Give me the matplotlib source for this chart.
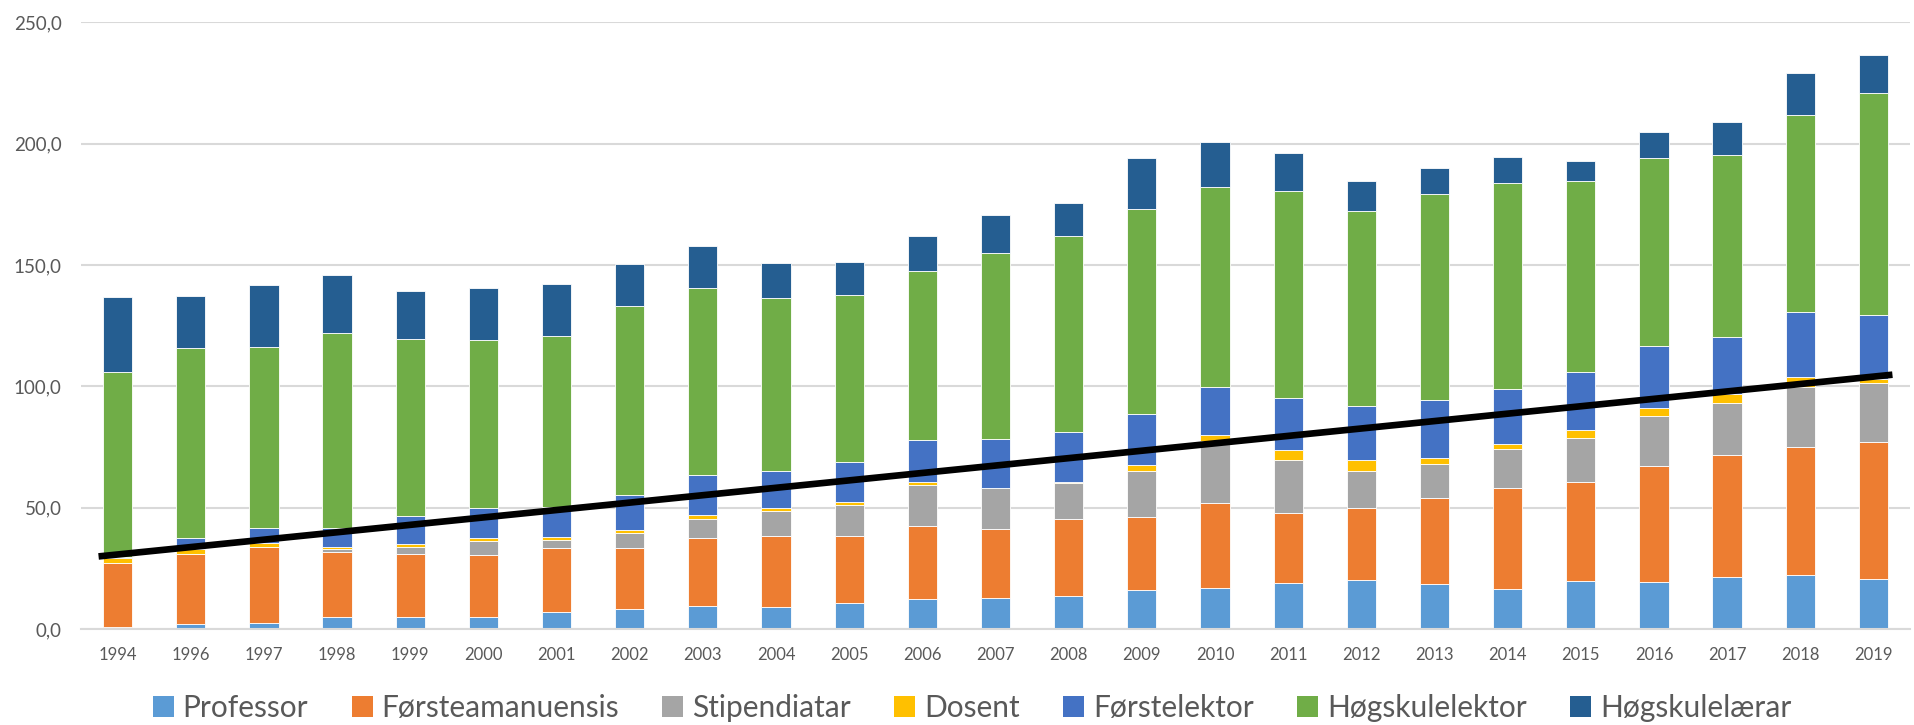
import matplotlib
matplotlib.use("Agg")
import matplotlib.pyplot as plt
import numpy as np
from matplotlib.patches import Patch
from matplotlib.ticker import FuncFormatter, MultipleLocator

plt.rcParams['font.family'] = ['Lato', 'DejaVu Sans']

years = ["1994", "1996", "1997", "1998", "1999", "2000", "2001", "2002", "2003", "2004",
         "2005", "2006", "2007", "2008", "2009", "2010", "2011", "2012", "2013", "2014",
         "2015", "2016", "2017", "2018", "2019"]

professor = [0.7, 1.9, 2.3, 4.8, 4.8, 5.1, 7.1, 8.2, 9.6, 9.2, 10.8, 12.2, 12.8, 13.6, 16.2,
             17.0, 18.9, 20.2, 18.4, 16.5, 19.9, 19.5, 21.5, 22.3, 20.8]
forsteamanuensis = [26.3, 29.0, 31.6, 27.1, 26.2, 25.5, 26.4, 25.3, 28.0, 29.3, 27.4, 30.1, 28.5,
                    31.8, 29.8, 34.9, 28.7, 29.8, 35.7, 41.6, 40.7, 47.6, 50.3, 52.8, 56.2]
stipendiatar = [0.0, 0.0, 0.0, 1.2, 2.9, 5.8, 3.3, 5.9, 7.9, 10.1, 12.8, 17.0, 16.7, 14.9, 19.0,
                25.5, 22.0, 15.2, 14.0, 16.1, 17.9, 20.8, 21.2, 24.7, 24.5]
dosent = [2.3, 1.9, 1.7, 0.8, 1.3, 1.1, 1.1, 1.3, 1.3, 1.3, 1.2, 1.3, 0.3, 0.3, 2.4, 2.5, 4.1,
          4.3, 2.4, 1.9, 3.3, 3.3, 3.9, 3.9, 1.6]
forstelektor = [0.5, 4.8, 6.2, 7.9, 11.5, 12.5, 12.5, 14.5, 16.5, 15.3, 16.5, 17.3, 20.0, 20.5,
                21.1, 19.8, 21.6, 22.5, 23.9, 22.6, 24.2, 25.6, 23.3, 27.1, 26.1]
hogskulelektor = [76.1, 78.2, 74.3, 80.2, 72.9, 69.0, 70.3, 77.9, 77.2, 71.2, 68.9, 69.6, 76.7,
                  80.7, 84.5, 82.5, 85.2, 80.1, 85.0, 84.9, 78.7, 77.3, 75.2, 80.8, 91.5]
hogskulelaerar = [31.1, 21.4, 25.5, 23.9, 19.8, 21.5, 21.3, 17.2, 17.2, 14.4, 13.6, 14.6, 15.4,
                  13.7, 21.1, 18.5, 15.8, 12.4, 10.7, 10.8, 8.1, 10.8, 13.6, 17.6, 15.8]

series_names = ["Professor", "Førsteamanuensis", "Stipendiatar", "Dosent", "Førstelektor",
                "Høgskulelektor", "Høgskulelærar"]
series = [professor, forsteamanuensis, stipendiatar, dosent, forstelektor, hogskulelektor,
          hogskulelaerar]
colors = ["#5B9BD5", "#ED7D31", "#A5A5A5", "#FFC000", "#4472C4", "#70AD47", "#255E91"]

# trend line values at first and last category
trend_first = 30.7
trend_last = 104.0

W, H = 1915, 725
fig = plt.figure(figsize=(W / 100, H / 100), dpi=100)
ax = fig.add_axes([81 / W, 1 - 629 / H, (1910 - 81) / W, (629 - 22.3) / H])

x = np.arange(len(years))
bottom = np.zeros(len(years))
for name, vals, c in zip(series_names, series, colors):
    v = np.array(vals)
    ax.bar(x, v, width=0.4, bottom=bottom, color=c, edgecolor="#FFFFFF", linewidth=0.6,
           label=name, zorder=2)
    bottom += v

# trend line, extended slightly past first/last bar centre
slope = (trend_last - trend_first) / (len(years) - 1)
ext = 0.26
tx = np.array([-ext, len(years) - 1 + ext])
ty = trend_first + slope * tx
ax.plot(tx, ty, color="black", lw=4.8, solid_capstyle="butt", zorder=3)

ax.set_xlim(-0.5, len(years) - 0.5)
ax.set_ylim(0, 250)
ax.yaxis.set_major_locator(MultipleLocator(50))
ax.yaxis.set_major_formatter(FuncFormatter(lambda v, p: f"{v:.1f}".replace(".", ",")))
ax.set_xticks(x)
ax.set_xticklabels(years)
ax.grid(axis="y", color="#D9D9D9", lw=1.5, zorder=0)
ax.set_axisbelow(True)
for s in ["top", "right", "left"]:
    ax.spines[s].set_visible(False)
ax.spines["bottom"].set_color("#D9D9D9")
ax.spines["bottom"].set_linewidth(1.5)
ax.tick_params(axis="y", length=0, pad=14, labelsize=13.5, labelcolor="#595959")
ax.tick_params(axis="x", length=0, pad=13, labelsize=12, labelcolor="#595959")

handles = [Patch(facecolor=c, edgecolor="none") for c in colors]
fig.legend(handles, series_names, loc="center", bbox_to_anchor=(972 / W, 1 - 708 / H),
           ncol=7, frameon=False, fontsize=21.5, handlelength=0.7, handleheight=0.7,
           handletextpad=0.3, columnspacing=1.45, labelcolor="#595959")

fig.savefig("out.png", dpi=100)
